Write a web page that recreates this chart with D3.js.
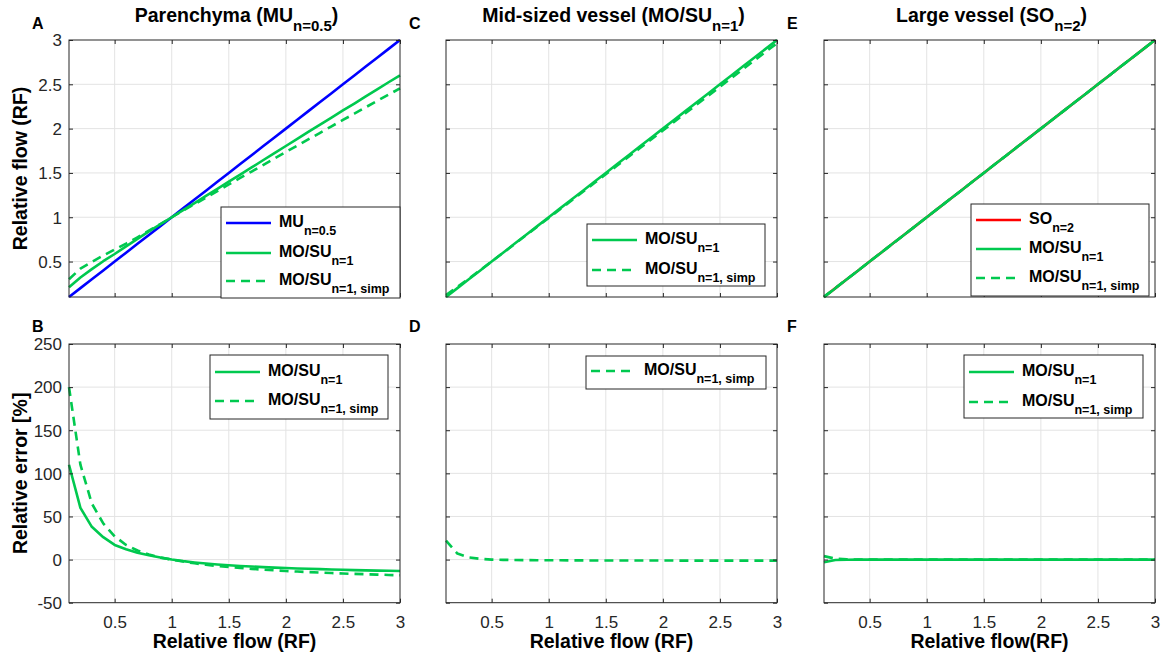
<!DOCTYPE html>
<html>
<head>
<meta charset="utf-8">
<script src="https://cdn.jsdelivr.net/npm/d3@7"></script>
<style>
  html, body { margin: 0; padding: 0; background: #fff; }
  svg { display: block; font-family: "Liberation Sans", Arial, Helvetica, sans-serif; }
  .grid line { stroke: #e3e3e3; stroke-width: 1; }
  .tick-lbl { fill: #262626; font-size: 17px; }
  .bold { font-weight: bold; fill: #000; }
</style>
</head>
<body>
<svg id="fig" width="1171" height="663"></svg>
<script>
// 相对流量（x 轴）
const RF = [0.1,0.2,0.3,0.4,0.5,0.6,0.7,0.8,0.9,1.0,1.1,1.2,1.3,1.4,1.5,1.6,1.7,1.8,1.9,2.0,
            2.1,2.2,2.3,2.4,2.5,2.6,2.7,2.8,2.9,3.0];

// A: Parenchyma
const parMU = [0.1,0.2,0.3,0.4,0.5,0.6,0.7,0.8,0.9,1.0,1.1,1.2,1.3,1.4,1.5,1.6,1.7,1.8,1.9,2.0,
               2.1,2.2,2.3,2.4,2.5,2.6,2.7,2.8,2.9,3.0];
const parMOSU = [0.21,0.32,0.414,0.504,0.585,0.672,0.756,0.84,0.921,1.0,1.08,1.16,1.24,1.32,1.401,1.482,1.562,1.643,1.723,1.804,
                 1.884,1.965,2.045,2.124,2.205,2.283,2.363,2.442,2.523,2.601];
const parSimp = [0.30,0.42,0.495,0.568,0.635,0.702,0.774,0.848,0.923,1.0,1.075,1.148,1.222,1.295,1.37,1.443,1.516,1.589,1.663,1.736,
                 1.808,1.881,1.953,2.026,2.098,2.168,2.241,2.313,2.384,2.454];
// B: relative error, parenchyma
const errParMOSU = [110,60,38,26,17,12,8,5,2.3,0,-1.8,-3.3,-4.6,-5.7,-6.6,-7.4,-8.1,-8.7,-9.3,-9.8,
                    -10.3,-10.7,-11.1,-11.5,-11.8,-12.2,-12.5,-12.8,-13.0,-13.3];
const errParSimp = [200,110,65,42,27,17,10.5,6,2.5,0,-2.3,-4.3,-6,-7.5,-8.7,-9.8,-10.8,-11.7,-12.5,-13.2,
                    -13.9,-14.5,-15.1,-15.6,-16.1,-16.6,-17.0,-17.4,-17.8,-18.2];

// C: Mid-sized vessel
const midMOSU = [0.1,0.2,0.3,0.4,0.5,0.6,0.7,0.8,0.9,1.0,1.1,1.2,1.3,1.4,1.5,1.6,1.7,1.8,1.9,2.0,
                 2.1,2.2,2.3,2.4,2.5,2.6,2.7,2.8,2.9,3.0];
const midSimp = [0.122,0.214,0.308,0.403,0.5,0.598,0.696,0.795,0.894,0.992,1.091,1.189,1.288,1.386,1.485,1.584,1.683,1.781,1.88,1.979,
                 2.078,2.176,2.275,2.374,2.472,2.571,2.669,2.768,2.866,2.964];
// D
const errMidSimp = [22,7,2.5,0.8,0,-0.3,-0.5,-0.6,-0.7,-0.8,-0.85,-0.9,-0.95,-1.0,-1.0,-1.05,-1.05,-1.1,-1.1,-1.1,
                    -1.15,-1.15,-1.15,-1.2,-1.2,-1.2,-1.2,-1.2,-1.2,-1.2];

// E: Large vessel
const largeSO = [0.1,0.2,0.3,0.4,0.5,0.6,0.7,0.8,0.9,1.0,1.1,1.2,1.3,1.4,1.5,1.6,1.7,1.8,1.9,2.0,
                 2.1,2.2,2.3,2.4,2.5,2.6,2.7,2.8,2.9,3.0];
const largeMOSU = [0.097,0.199,0.3,0.4,0.5,0.6,0.7,0.8,0.9,1.0,1.1,1.2,1.3,1.4,1.5,1.6,1.7,1.8,1.9,2.0,
                   2.1,2.2,2.3,2.4,2.5,2.6,2.7,2.8,2.9,3.0];
const largeSimp = [0.104,0.202,0.301,0.4,0.5,0.6,0.7,0.8,0.9,1.0,1.1,1.2,1.3,1.4,1.5,1.6,1.7,1.8,1.9,2.0,
                   2.1,2.2,2.3,2.4,2.5,2.6,2.7,2.8,2.9,3.0];
// F
const errLargeMOSU = [-3,-0.5,-0.2,-0.1,0,0,0,0,0,0,0,0,0,0,0,0,0,0,0,0,0,0,0,0,0,0,0,0,0,0];
const errLargeSimp = [4,1,0.3,0.1,0,0,0,0,0,0,0,0,0,0,0,0,0,0,0,0,0,0,0,0,0,0,0,0,0,0];

const xTicks = [0.5,1,1.5,2,2.5,3];
const yTicksRF = [0.5,1,1.5,2,2.5,3];
const yTicksErr = [-50,0,50,100,150,200,250];

const BLUE = '#0000ff', GREEN = '#00c94f', RED = '#ff0000';
const DASH = '9,6';

const svg = d3.select('#fig');
const colLeft = [69, 446, 824], plotW = 331;
const rowTop = [{top:40, bottom:297}, {top:344, bottom:602.7}];

function subText(sel, main, sub, tail, subSize, subDy){
  sel.append('tspan').text(main);
  sel.append('tspan').attr('font-size', subSize).attr('dy', subDy).text(sub);
  if(tail) sel.append('tspan').attr('dy', -subDy).text(tail);
}

function drawPanel(p){
  const r = rowTop[p.row];
  const x = d3.scaleLinear().domain([0.1,3]).range([colLeft[p.col], colLeft[p.col]+plotW]);
  const y = d3.scaleLinear().domain(p.yDomain).range([r.bottom, r.top]);
  const g = svg.append('g');

  // 网格
  const grid = g.append('g').attr('class','grid');
  grid.selectAll('line.gx').data(xTicks.filter(d=>d<3)).enter().append('line')
    .attr('x1',d=>x(d)).attr('x2',d=>x(d)).attr('y1',r.top).attr('y2',r.bottom);
  grid.selectAll('line.gy').data(p.yTicks.filter(d=>d>p.yDomain[0] && d<p.yDomain[1])).enter().append('line')
    .attr('y1',d=>y(d)).attr('y2',d=>y(d)).attr('x1',x.range()[0]).attr('x2',x.range()[1]);

  // 曲线
  p.series.forEach(s=>{
    const line = d3.line().x((d,i)=>x(RF[i])).y(d=>y(d));
    g.append('path').datum(s.values)
      .attr('fill','none').attr('stroke',s.color).attr('stroke-width',2.6)
      .attr('stroke-dasharray', s.dash ? DASH : null)
      .attr('stroke-linejoin','round')
      .attr('d', line);
  });

  // 坐标轴（刻度向内，四边）
  const fmt = d=>String(d);
  const axes = [
    {ax:d3.axisBottom(x).tickValues(xTicks), tr:`translate(0,${r.bottom})`, lbl:p.row===1},
    {ax:d3.axisTop(x).tickValues(xTicks), tr:`translate(0,${r.top})`, lbl:false},
    {ax:d3.axisLeft(y).tickValues(p.yTicks), tr:`translate(${x.range()[0]},0)`, lbl:p.col===0},
    {ax:d3.axisRight(y).tickValues(p.yTicks), tr:`translate(${x.range()[1]},0)`, lbl:false}
  ];
  axes.forEach((a,k)=>{
    const ag = g.append('g').attr('transform',a.tr)
      .call(a.ax.tickSizeInner(-4).tickSizeOuter(0).tickFormat(a.lbl?fmt:''));
    ag.select('.domain').remove();
    ag.selectAll('.tick line').attr('stroke','#262626');
    ag.attr('font-family',null).attr('font-size',null);
    if(a.lbl){
      const t = ag.selectAll('.tick text').attr('class','tick-lbl').attr('fill','#262626');
      if(k===0) t.attr('y',25).attr('dy',0);
      else t.attr('x',-7).attr('dy','0.34em');
    }
  });
  g.append('rect').attr('x',x.range()[0]).attr('y',r.top)
    .attr('width',plotW).attr('height',r.bottom-r.top)
    .attr('fill','none').attr('stroke','#262626').attr('stroke-width',1);

  // 图例
  const L = p.legend;
  const lg = g.append('g');
  lg.append('rect').attr('x',L.x).attr('y',L.y).attr('width',L.w).attr('height',L.h)
    .attr('fill','#fff').attr('stroke','#262626').attr('stroke-width',1);
  L.rows.forEach((row,i)=>{
    const ry = L.rowY[i];
    lg.append('line').attr('x1',L.x+5).attr('x2',L.x+50).attr('y1',ry).attr('y2',ry)
      .attr('stroke',row.color).attr('stroke-width',2.6)
      .attr('stroke-dasharray', row.dash ? DASH : null);
    const t = lg.append('text').attr('class','bold').attr('x',L.x+58).attr('y',ry+3.5)
      .attr('font-size',16);
    subText(t, row.main, row.sub, null, 12.5, 8);
  });

  // 面板字母
  svg.append('text').attr('class','bold').attr('font-size',16)
    .attr('x', colLeft[p.col]-37).attr('y', p.row===0 ? 29 : 332).text(p.letter);

  // 标题
  if(p.title){
    const t = svg.append('text').attr('class','bold').attr('font-size',19.5)
      .attr('text-anchor','middle').attr('x', colLeft[p.col]+plotW/2+2).attr('y',22);
    subText(t, p.title[0], p.title[1], ')', 15, 9);
  }
  if(p.xLabel){
    svg.append('text').attr('class','bold').attr('font-size',19.5)
      .attr('text-anchor','middle').attr('x', colLeft[p.col]+plotW/2).attr('y',648).text(p.xLabel);
  }
  if(p.yLabel){
    svg.append('text').attr('class','bold').attr('font-size',19.5)
      .attr('text-anchor','middle')
      .attr('transform',`translate(27,${(r.top+r.bottom)/2}) rotate(-90)`).text(p.yLabel);
  }
}

const LMU = {color:BLUE, main:'MU', sub:'n=0.5'};
const LMO = {color:GREEN, main:'MO/SU', sub:'n=1'};
const LSI = {color:GREEN, dash:true, main:'MO/SU', sub:'n=1, simp'};
const LSO = {color:RED, main:'SO', sub:'n=2'};

const panels = [
  {letter:'A', row:0, col:0, yDomain:[0.1,3], yTicks:yTicksRF,
   title:['Parenchyma (MU','n=0.5'], yLabel:'Relative flow (RF)',
   series:[{values:parMU,color:BLUE},{values:parMOSU,color:GREEN},{values:parSimp,color:GREEN,dash:true}],
   legend:{x:221,y:207,w:179,h:91,rowY:[223,253,281],rows:[LMU,LMO,LSI]}},
  {letter:'B', row:1, col:0, yDomain:[-50,250], yTicks:yTicksErr,
   yLabel:'Relative error [%]', xLabel:'Relative flow (RF)',
   series:[{values:errParMOSU,color:GREEN},{values:errParSimp,color:GREEN,dash:true}],
   legend:{x:210,y:355,w:178,h:64,rowY:[372,401],rows:[LMO,LSI]}},
  {letter:'C', row:0, col:1, yDomain:[0.1,3], yTicks:yTicksRF,
   title:['Mid-sized vessel (MO/SU','n=1'],
   series:[{values:midMOSU,color:GREEN},{values:midSimp,color:GREEN,dash:true}],
   legend:{x:587,y:224,w:178,h:62,rowY:[240,270],rows:[LMO,LSI]}},
  {letter:'D', row:1, col:1, yDomain:[-50,250], yTicks:yTicksErr,
   xLabel:'Relative flow (RF)',
   series:[{values:errMidSimp,color:GREEN,dash:true}],
   legend:{x:586,y:356,w:180,h:33,rowY:[371],rows:[LSI]}},
  {letter:'E', row:0, col:2, yDomain:[0.1,3], yTicks:yTicksRF,
   title:['Large vessel (SO','n=2'],
   series:[{values:largeSO,color:RED},{values:largeMOSU,color:GREEN},{values:largeSimp,color:GREEN,dash:true}],
   legend:{x:971,y:204,w:178,h:92,rowY:[220,249,278],rows:[LSO,LMO,LSI]}},
  {letter:'F', row:1, col:2, yDomain:[-50,250], yTicks:yTicksErr,
   xLabel:'Relative flow(RF)',
   series:[{values:errLargeMOSU,color:GREEN},{values:errLargeSimp,color:GREEN,dash:true}],
   legend:{x:964,y:355,w:179,h:63,rowY:[372,402],rows:[LMO,LSI]}}
];

panels.forEach(drawPanel);
</script>
</body>
</html>
